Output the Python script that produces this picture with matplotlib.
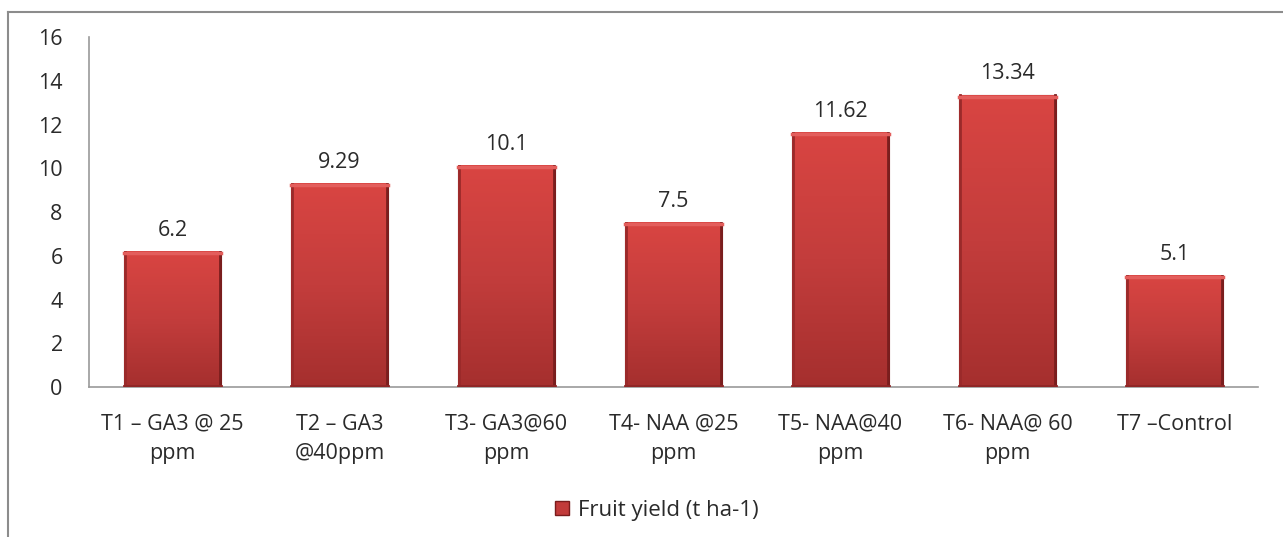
import numpy as np
import matplotlib
matplotlib.use('Agg')
import matplotlib.pyplot as plt
from matplotlib.lines import Line2D
from matplotlib.colors import LinearSegmentedColormap

# Data
categories = ['T1 \u2013 GA3 @ 25\nppm', 'T2 \u2013 GA3\n@40ppm', 'T3- GA3@60\nppm',
              'T4- NAA @25\nppm', 'T5- NAA@40\nppm', 'T6- NAA@ 60\nppm', 'T7 \u2013Control']
fruit_yield = [6.2, 9.29, 10.1, 7.5, 11.62, 13.34, 5.1]
value_labels = ['6.2', '9.29', '10.1', '7.5', '11.62', '13.34', '5.1']
y_ticks = [0, 2, 4, 6, 8, 10, 12, 14, 16]

plt.rcParams['font.family'] = ['Open Sans', 'DejaVu Sans']
text_color = '#2a2a2a'
fs = 15.5

fig = plt.figure(figsize=(12.83, 5.37), dpi=100)
ax = fig.add_axes([0.0694, 0.279, 0.9111, 0.652])

x = np.arange(len(categories))
bars = ax.bar(x, fruit_yield, width=0.58, color='#c23b3a', edgecolor='#7a1c1c',
              linewidth=0.8, zorder=2)

# vertical gradient inside each bar (lighter on top, darker at bottom)
cmap = LinearSegmentedColormap.from_list('barred', ['#a52f2e', '#c33d3c', '#d94542'])
grad = np.linspace(0, 1, 256).reshape(-1, 1)
for b in bars:
    x0, y0 = b.get_x(), b.get_y()
    w, h = b.get_width(), b.get_height()
    ax.imshow(grad, cmap=cmap, aspect='auto', origin='lower',
              extent=(x0, x0 + w, y0, y0 + h), zorder=2.5, interpolation='bilinear')
    # bevel edges
    ax.plot([x0 + 0.006, x0 + 0.006], [y0, y0 + h], color='#9a2a2a', lw=2, zorder=3)
    ax.plot([x0 + w - 0.006, x0 + w - 0.006], [y0, y0 + h], color='#7a1e1e', lw=2, zorder=3)
    ax.plot([x0, x0 + w], [y0 + h - 0.06, y0 + h - 0.06], color='#e35e5c', lw=2.5, zorder=3)
    ax.plot([x0, x0 + w], [y0 + 0.06, y0 + 0.06], color='#8f2626', lw=2, zorder=3)

for b, lab in zip(bars, value_labels):
    ax.text(b.get_x() + b.get_width() / 2, b.get_height() + 0.5, lab,
            ha='center', va='bottom', fontsize=fs, color=text_color)

ax.set_xlim(-0.5, len(categories) - 0.5)
ax.set_ylim(0, 16)
ax.set_yticks(y_ticks)
ax.set_xticks(x)
ax.set_xticklabels(categories, fontsize=fs, color=text_color, linespacing=1.5)
ax.tick_params(axis='y', labelsize=fs, colors=text_color, length=0, pad=19)
ax.tick_params(axis='x', length=0, pad=19)
for s in ['top', 'right']:
    ax.spines[s].set_visible(False)
for s in ['left', 'bottom']:
    ax.spines[s].set_color('#9a9a9a')
    ax.spines[s].set_linewidth(1.2)

# legend below the chart
handle = plt.Rectangle((0, 0), 1, 1, facecolor='#c23b3a', edgecolor='#7a1c1c')
fig.legend([handle], ['Fruit yield (t ha-1)'], loc='center', bbox_to_anchor=(0.512, 0.05),
           frameon=False, fontsize=16, handlelength=0.6, handleheight=0.6,
           handletextpad=0.4, labelcolor=text_color)

# outer chart frame (only top and left visible)
bx = 8 / 1283
by = 1 - 12 / 537
fig.add_artist(Line2D([bx, bx], [0, by], transform=fig.transFigure, color='#8c8c8c', lw=1.5))
fig.add_artist(Line2D([bx, 1], [by, by], transform=fig.transFigure, color='#8c8c8c', lw=1.5))

fig.savefig('out.png', dpi=100)
